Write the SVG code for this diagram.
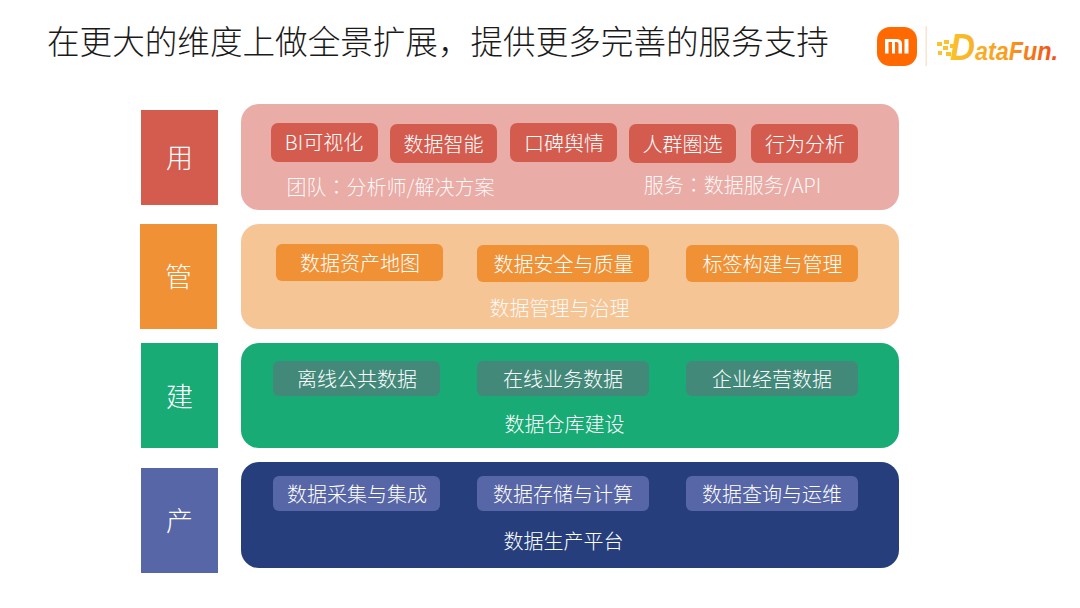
<svg xmlns="http://www.w3.org/2000/svg" width="1080" height="608" viewBox="0 0 1080 608">
<style>
text{font-family:"Noto Sans CJK SC","Noto Sans",sans-serif;font-weight:300;text-anchor:middle;fill:#fff}
.t{font-size:20px}
.h{font-size:27px}
.title{font-size:32.6px;fill:#1a1a1a;text-anchor:start;font-weight:300}
.s{fill:#fff;fill-opacity:.95}
.c{font-family:"Noto Sans CJK TC",sans-serif}
.df{font-family:"Liberation Sans",sans-serif;font-weight:700;font-style:italic;text-anchor:start}
</style>
<defs><linearGradient id="df" gradientUnits="userSpaceOnUse" x1="950" x2="1058" y1="0" y2="0"><stop offset="0" stop-color="#f9c22e"/><stop offset=".55" stop-color="#f99a1c"/><stop offset="1" stop-color="#f04a14"/></linearGradient></defs>
<rect width="1080" height="608" fill="#fff"/>
<text id="title" class="title" x="47" y="54">在更大的维度上做全景扩展，提供更多完善的服务支持</text>
<g id="logo">
<rect x="877" y="27" width="40" height="39" rx="13" fill="#ff6900"/>
<path d="M885 39h11q6 0 6 5v9.500h-3.500V44q0-2-2-2h-1.500v11.500h-3V42H888.500v11.500H885zM904.500 39h4v14.500h-4z" fill="#fff"/>
<rect x="925.500" y="26" width="1.500" height="40" fill="#fbe3d0"/>
<g fill="#f9c22e"><rect x="937" y="42" width="5" height="4"/><rect x="944" y="40" width="5" height="4"/><rect x="943" y="46" width="5" height="4"/><rect x="950" y="44" width="5" height="4"/><rect x="938" y="51" width="4" height="4"/><rect x="946" y="52" width="5" height="4"/></g>
<text class="df" x="950" y="60" style="font-size:37px;fill:url(#df)" textLength="25" lengthAdjust="spacingAndGlyphs">D</text>
<text class="df" x="975" y="60" style="font-size:25px;fill:url(#df)" textLength="83" lengthAdjust="spacingAndGlyphs">ataFun.</text>
</g>
<g id="yong">
<rect x="141" y="110" width="77" height="95" fill="#d45c4f"/><text class="h" x="179.500" y="168">用</text>
<rect x="241" y="104" width="658" height="106" rx="18" fill="#eaaca6"/>
<rect x="271" y="123" width="107" height="39" rx="7" fill="#d45c4f"/><text class="t" x="324" y="150">BI可视化</text>
<rect x="390" y="124" width="107" height="39" rx="7" fill="#d45c4f"/><text class="t" x="443.500" y="152">数据智能</text>
<rect x="510" y="123" width="107" height="39" rx="7" fill="#d45c4f"/><text class="t" x="564" y="151">口碑舆情</text>
<rect x="629" y="124" width="107" height="39" rx="7" fill="#d45c4f"/><text class="t" x="682.500" y="152">人群圈选</text>
<rect x="751" y="124" width="107" height="39" rx="7" fill="#d45c4f"/><text class="t" x="805" y="152">行为分析</text>
<text class="t s" x="390.500" y="195">团队<tspan class="c">：</tspan>分析师/解决方案</text>
<text class="t s" x="732.500" y="193">服务<tspan class="c">：</tspan>数据服务/API</text>
</g>
<g id="guan">
<rect x="140" y="224" width="77" height="105" fill="#f09135"/><text class="h" x="178.500" y="287">管</text>
<rect x="241" y="224" width="658" height="105" rx="18" fill="#f6c596"/>
<rect x="276" y="244" width="167" height="37" rx="6" fill="#f09135"/><text class="t" x="360" y="271">数据资产地图</text>
<rect x="477" y="245" width="172" height="37" rx="6" fill="#f09135"/><text class="t" x="563.500" y="272">数据安全与质量</text>
<rect x="686" y="245" width="172" height="37" rx="6" fill="#f09135"/><text class="t" x="772.500" y="272">标签构建与管理</text>
<text class="t s" x="559.500" y="316">数据管理与治理</text>
</g>
<g id="jian">
<rect x="141" y="343" width="77" height="105" fill="#18ab75"/><text class="h" x="179.500" y="407">建</text>
<rect x="241" y="343" width="658" height="105" rx="18" fill="#18ab75"/>
<rect x="273" y="361" width="167" height="35" rx="6" fill="#43897a"/><text class="t" x="357" y="387">离线公共数据</text>
<rect x="477" y="361" width="172" height="35" rx="6" fill="#43897a"/><text class="t" x="563" y="387">在线业务数据</text>
<rect x="686" y="361" width="172" height="35" rx="6" fill="#43897a"/><text class="t" x="772" y="387">企业经营数据</text>
<text class="t" x="564.500" y="432">数据仓库建设</text>
</g>
<g id="chan">
<rect x="141" y="468" width="77" height="105" fill="#5766a6"/><text class="h" x="179.500" y="531">产</text>
<rect x="241" y="462" width="658" height="106" rx="18" fill="#263f7c"/>
<rect x="273" y="476" width="167" height="35" rx="6" fill="#5766a6"/><text class="t" x="357" y="502">数据采集与集成</text>
<rect x="477" y="476" width="172" height="35" rx="6" fill="#5766a6"/><text class="t" x="563" y="502">数据存储与计算</text>
<rect x="686" y="476" width="172" height="35" rx="6" fill="#5766a6"/><text class="t" x="772" y="502">数据查询与运维</text>
<text class="t" x="563.500" y="549">数据生产平台</text>
</g>
<g id="connectors"/>
</svg>
